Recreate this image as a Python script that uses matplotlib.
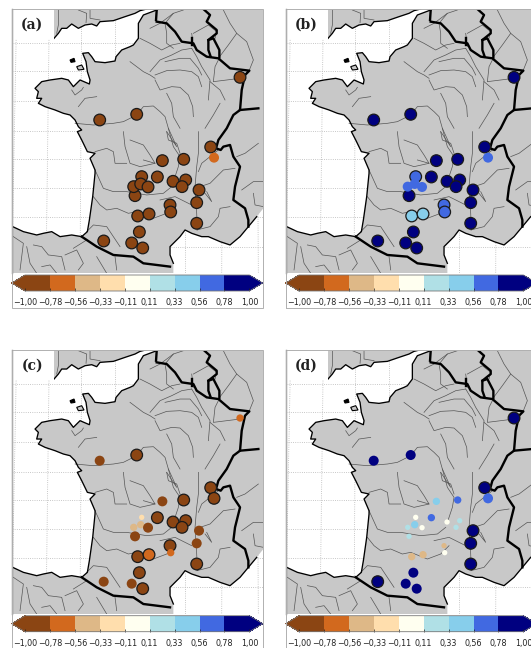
import matplotlib
matplotlib.use('Agg')
import matplotlib.pyplot as plt
from matplotlib.cm import ScalarMappable
from matplotlib.colors import BoundaryNorm, ListedColormap
from matplotlib.patches import Polygon, Rectangle

# map is kept in plain grid units (3 units = 1 pixel)
XLIM = (35, 788)
YLIM = (820, 27)

station_x = [720, 299, 410, 632, 642, 487, 551, 425, 472, 519, 557, 546, 597, 405,
             401, 422, 444, 510, 512, 590, 413, 447, 590, 418, 311, 395, 428]
station_y = [232, 360, 343, 441, 473, 482, 478, 530, 531, 544, 540, 560, 570, 587,
             560, 552, 561, 615, 636, 608, 648, 642, 670, 696, 723, 729, 744]

# correlation per station, one list per panel
values_a = [-.89, -.89, -.89, -.89, -.67, -.89, -.89, -.89, -.89, -.89, -.89, -.89, -.89, -.89,
            -.89, -.89, -.89, -.89, -.89, -.89, -.89, -.89, -.89, -.89, -.89, -.89, -.89]
values_b = [.89, .89, .89, .89, .67, .89, .89, .67, .89, .89, .89, .89, .89, .89,
            .67, .67, .67, .67, .67, .89, .44, .44, .89, .89, .89, .89, .89]
values_c = [-.67, -.89, -.89, -.89, -.89, -.89, -.89, -.22, -.89, -.89, -.89, -.89, -.89, -.89,
            -.44, -.44, -.89, -.89, -.67, -.89, -.89, -.67, -.89, -.89, -.89, -.89, -.89]
values_d = [.89, .89, .89, .89, .67, .44, .67, 0, .67, 0, .22, .22, .89, .22,
            .22, .44, 0, -.44, 0, .89, -.44, -.44, .89, .89, .89, .89, .89]

# significance class per station: 1 weakest, 4 strongest (outlined)
levels_a = [4, 4, 4, 4, 3, 4, 4, 4, 4, 4, 4, 4, 4, 4,
            4, 4, 4, 4, 4, 4, 4, 4, 4, 4, 4, 4, 4]
levels_b = [4, 4, 4, 4, 3, 4, 4, 4, 4, 4, 4, 4, 4, 4,
            3, 3, 3, 4, 4, 4, 4, 4, 4, 4, 4, 4, 4]
levels_c = [2, 3, 4, 4, 4, 3, 4, 1, 4, 4, 4, 4, 3, 3,
            2, 2, 3, 4, 2, 3, 4, 4, 4, 4, 3, 3, 4]
levels_d = [4, 3, 3, 4, 3, 2, 2, 1, 2, 1, 1, 1, 4, 1,
            1, 2, 1, 1, 1, 4, 2, 2, 4, 3, 4, 3, 3]

bounds = [-1.00, -0.78, -0.56, -0.33, -0.11, 0.11, 0.33, 0.56, 0.78, 1.00]
tick_labels = ['\u22121,00', '\u22120,78', '\u22120,56', '\u22120,33', '\u22120,11',
               '0,11', '0,33', '0,56', '0,78', '1,00']
colors = ['#8b4513', '#d2691e', '#deb887', '#ffdead', '#fffff0',
          '#b0e0e6', '#87ceeb', '#4169e1', '#000080']

atlantic_coast = [(35, 820), (38, 680), (70, 695), (110, 705), (130, 700), (155, 695), (180, 710),
                  (215, 705), (245, 710), (262, 695), (268, 660), (278, 590), (285, 520), (285, 510),
                  (270, 475), (285, 460), (262, 455), (245, 420), (232, 395), (245, 390), (235, 380),
                  (225, 360), (210, 345), (190, 340), (165, 330), (135, 320), (115, 310), (125, 295),
                  (110, 295), (115, 275), (105, 265), (125, 245), (150, 240), (185, 235), (205, 240),
                  (220, 260), (240, 240), (268, 252), (270, 240), (262, 215), (258, 185), (248, 160),
                  (265, 158), (275, 170), (285, 185), (315, 188), (345, 183), (348, 170), (365, 150),
                  (390, 140), (400, 135), (415, 115), (415, 70), (430, 45), (470, 30), (475, 27)]
med_coast = [(790, 27), (790, 625), (770, 650), (745, 680), (720, 710), (690, 735), (660, 725),
             (625, 710), (605, 710), (575, 700), (555, 690), (540, 710), (510, 740), (510, 765),
             (520, 790), (520, 820)]
uk_coast = [(150, 27), (162, 115), (175, 100), (185, 85), (200, 85), (215, 72), (235, 85), (255, 75),
            (275, 72), (290, 78), (300, 65), (340, 62), (375, 50), (390, 45), (405, 40), (420, 32),
            (440, 27)]
islands = [[(210, 180), (222, 175), (225, 185), (213, 187)],
           [(230, 200), (245, 195), (252, 208), (235, 210)]]

borders = [
    [(470, 65), (500, 70), (525, 95), (545, 125), (580, 130), (590, 150), (620, 170),
     (655, 175), (690, 205), (748, 212), (735, 225), (725, 270), (720, 330), (700, 345),
     (680, 385), (655, 420), (648, 445), (662, 450), (670, 440), (690, 435), (700, 470),
     (720, 500), (705, 560), (700, 600), (735, 625), (745, 660), (745, 680)],
    [(245, 710), (290, 740), (340, 765), (400, 770), (430, 790), (510, 800)],
    [(610, 27), (630, 45), (620, 65), (650, 90), (650, 100), (625, 120), (625, 150), (632, 170)],
    [(625, 120), (640, 115), (658, 150), (658, 172)],
    [(575, 135), (575, 115)],
    [(720, 330), (775, 325)],
    [(470, 30), (468, 60)],
]

rivers = [
    [(390, 185), (410, 200), (430, 215), (450, 225), (465, 235)],
    [(450, 215), (480, 180), (515, 165), (545, 150), (575, 145)],
    [(465, 225), (500, 212), (540, 210), (575, 215), (595, 230), (605, 260)],
    [(495, 185), (540, 175), (570, 175), (595, 205), (605, 225)],
    [(465, 240), (480, 270), (515, 260), (540, 262), (565, 285), (578, 320), (580, 350)],
    [(500, 280), (515, 310), (520, 350), (540, 385)],
    [(575, 145), (590, 170), (605, 200), (630, 240), (625, 300)],
    [(720, 235), (680, 240), (640, 245), (645, 200), (655, 180)],
    [(630, 245), (660, 270), (675, 300)],
    [(225, 370), (280, 375), (340, 370), (370, 365), (410, 345), (430, 320), (460, 318),
     (480, 335), (495, 350), (505, 385), (520, 440), (540, 470), (535, 500), (520, 545)],
    [(505, 385), (530, 440), (500, 395)],
    [(615, 385), (640, 345), (660, 310)],
    [(670, 30), (690, 70), (710, 100), (740, 125), (760, 180), (748, 210)],
    [(710, 100), (685, 135), (655, 175)],
    [(575, 100), (580, 140)],
    [(580, 100), (625, 75), (650, 95), (645, 115)],
    [(450, 85), (480, 70), (520, 40), (550, 30)],
    [(520, 40), (495, 70), (500, 100), (500, 130), (520, 145)],
    [(420, 115), (450, 130), (485, 150), (515, 135), (540, 130)],
    [(215, 270), (225, 285), (245, 270), (250, 262)],
    [(235, 320), (255, 295), (290, 290)],
    [(175, 30), (175, 75), (170, 100)],
    [(235, 30), (260, 40), (258, 68)],
    [(270, 30), (270, 55), (300, 60)],
    [(595, 395), (595, 460), (590, 500), (585, 560), (590, 640), (592, 690)],
    [(655, 450), (605, 490), (595, 515)],
    [(705, 505), (670, 510), (655, 525), (630, 550), (600, 560)],
    [(690, 620), (660, 625), (655, 650), (630, 680), (590, 690)],
    [(615, 580), (635, 605), (620, 575)],
    [(500, 395), (505, 420), (530, 430), (540, 460)],
    [(370, 395), (375, 440), (390, 490), (420, 500), (465, 490)],
    [(390, 420), (430, 435), (450, 465), (465, 490), (430, 480)],
    [(285, 455), (320, 445), (340, 455), (345, 490), (380, 490)],
    [(285, 510), (310, 565), (340, 575), (380, 575), (440, 585), (490, 580), (515, 560)],
    [(280, 590), (300, 615), (320, 630), (350, 625), (385, 640), (410, 635), (460, 655),
     (500, 640), (525, 615)],
    [(480, 600), (525, 590), (575, 615)],
    [(260, 695), (280, 675), (320, 680), (340, 710), (360, 740)],
    [(40, 710), (70, 730), (60, 810)],
    [(80, 740), (90, 790), (110, 820)],
    [(100, 735), (125, 740), (145, 765), (185, 770), (195, 810)],
    [(220, 745), (260, 720)],
    [(195, 765), (230, 750), (250, 790), (235, 810)],
    [(125, 800), (150, 795), (170, 820)],
    [(290, 770), (320, 820)],
    [(345, 770), (350, 810)],
    [(725, 570), (760, 545), (790, 545)],
    [(760, 580), (765, 615), (790, 620)],
    [(710, 470), (735, 460), (775, 430)],
]

grid_vertical = [(50, 35), (148, 138), (245, 240), (345, 345), (555, 555), (668, 665), (770, 775)]
grid_horizontal = [130, 213, 303, 393, 478, 565, 652, 740]

SIZE_BY_LEVEL = {1: 8, 2: 11, 3: 15, 4: 17.5}


def draw_map(ax):
    ax.set_xlim(*XLIM)
    ax.set_ylim(*YLIM)
    ax.axis('off')
    for top, bottom in grid_vertical:
        ax.plot([top, bottom], [27, 820], ls=':', color='#b5b5b5', lw=0.6, zorder=1)
    for y in grid_horizontal:
        ax.plot(XLIM, [y, y], ls=':', color='#b5b5b5', lw=0.6, zorder=1)

    land = atlantic_coast + med_coast
    ax.add_patch(Polygon(land, closed=True, fc='#c8c8c8', ec='none', zorder=2))
    ax.add_patch(Polygon(uk_coast, closed=True, fc='#c8c8c8', ec='none', zorder=2))
    for isl in islands:
        ax.add_patch(Polygon(isl, closed=True, fc='#c8c8c8' if isl[0][0] > 220 else 'black',
                             ec='black', lw=0.8, zorder=4))

    for r in rivers:
        ax.plot(*zip(*r), color='#555555', lw=0.5, zorder=3)
    for line in (atlantic_coast[1:], med_coast[2:-1], uk_coast[1:]):
        ax.plot(*zip(*line), color='black', lw=0.95, zorder=4)
    for b in borders:
        ax.plot(*zip(*b), color='black', lw=1.7, zorder=5)
    ax.plot([35, 35], [27, 820], color='#808080', lw=1.0, zorder=9, clip_on=False)


def draw_stations(ax, values, levels):
    # radius in grid units -> marker area in points^2
    sizes = [(0.48*SIZE_BY_LEVEL[l])**2 for l in levels]
    edges = ['#1a1a1a' if l == 4 else 'none' for l in levels]
    ax.scatter(station_x, station_y, c=values, s=sizes, cmap=cmap, norm=norm,
               edgecolors=edges, linewidths=0.9, zorder=6, clip_on=False)


W, H = 531, 648
fig = plt.figure(figsize=(W/100, H/100), dpi=100)

cmap = ListedColormap(colors)
cmap.set_under(colors[0])
cmap.set_over(colors[-1])
norm = BoundaryNorm(bounds, cmap.N)

panels = [('(a)', 0, 0, values_a, levels_a),
          ('(b)', 274, 0, values_b, levels_b),
          ('(c)', 0, 340.7, values_c, levels_c),
          ('(d)', 274, 340.7, values_d, levels_d)]

for label, dx, dy, values, levels in panels:
    # outer frame around map and colour bar
    fig.add_artist(Rectangle(((11.7+dx)/W, 1-(308+dy)/H), 251/W, 299/H, fill=False,
                             ec='#b0b0b0', lw=0.7, transform=fig.transFigure))

    ax = fig.add_axes([(11.7+dx)/W, 1-(273.3+dy)/H, 251/W, 264.3/H])
    draw_map(ax)
    draw_stations(ax, values, levels)
    ax.add_patch(Rectangle((35, 27), 128, 90, fc='white', ec='none', zorder=7))
    ax.text(97, 75, label, family='DejaVu Serif', weight='bold', fontsize=10,
            ha='center', va='center', color='#222222', zorder=8)

    # the tips are drawn inside the axes box, so the box spans tip to tip
    cax = fig.add_axes([(11.7+dx)/W, 1-(291+dy)/H, 251/W, 16/H])
    cb = fig.colorbar(ScalarMappable(norm=norm, cmap=cmap), cax=cax, orientation='horizontal',
                      extend='both', extendfrac=0.0593, spacing='uniform')
    cb.set_ticks(bounds, labels=tick_labels)
    cb.ax.minorticks_off()
    cb.ax.tick_params(axis='x', direction='in', length=2, width=0.5, color='#222222',
                      labelsize=5.8, pad=5, labelcolor='#222222')
    cb.outline.set_edgecolor('#777777')
    cb.outline.set_linewidth(0.6)

fig.savefig('out.png', dpi=100)
